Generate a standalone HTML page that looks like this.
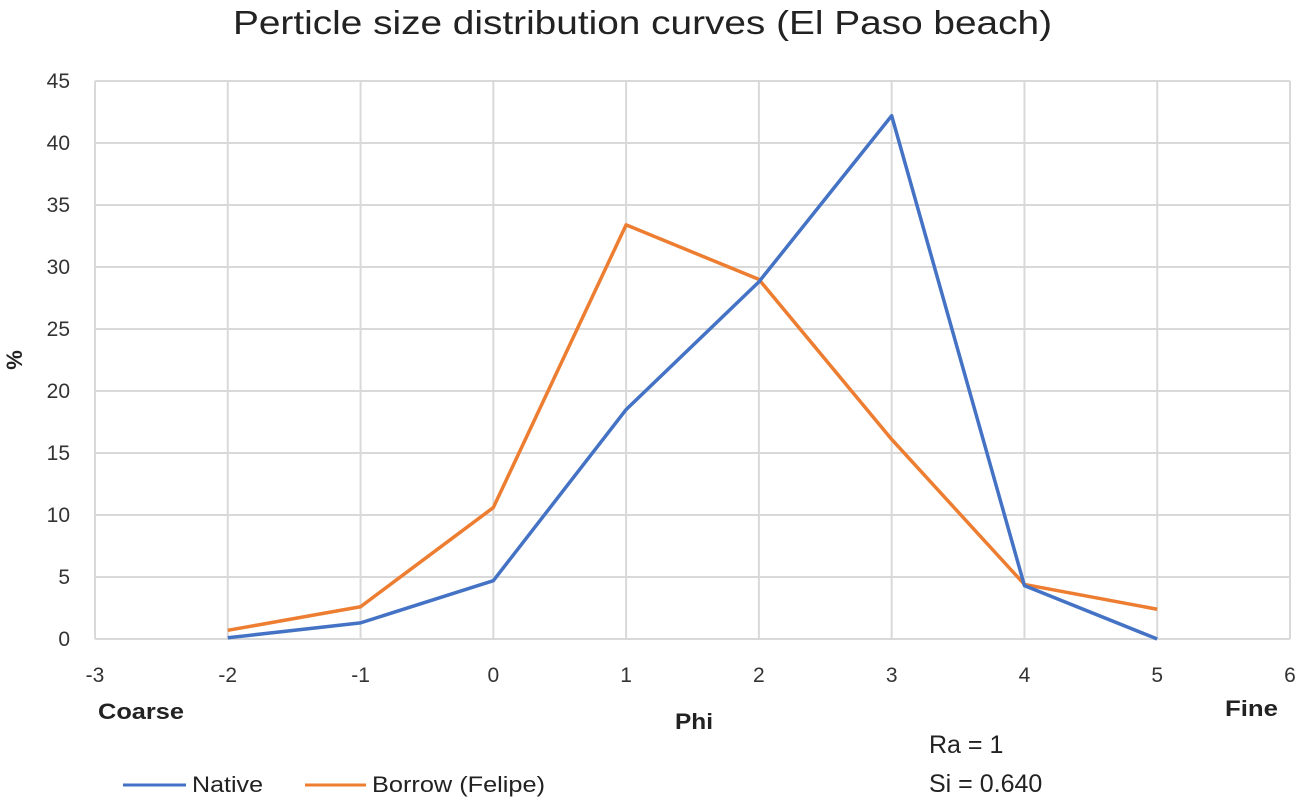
<!DOCTYPE html>
<html><head><meta charset="utf-8"><style>
body{margin:0;background:#fff;width:1299px;height:798px;overflow:hidden;font-family:"Liberation Sans",sans-serif}
svg text{font-family:"Liberation Sans",sans-serif}
</style></head><body>
<svg id="chart" width="1299" height="798">
<text x="233" y="34" textLength="819" lengthAdjust="spacingAndGlyphs" font-size="33" fill="#222">Perticle size distribution curves (El Paso beach)</text>
<g id="grid"></g><g id="ticks"></g><g id="series"></g>
<text x="22" y="360" transform="rotate(-90 22 360)" text-anchor="middle" font-size="22" font-weight="bold" fill="#222">%</text>
<text x="675" y="729" textLength="38" lengthAdjust="spacingAndGlyphs" font-size="22" font-weight="bold" fill="#222">Phi</text>
<text x="98" y="719" textLength="86" lengthAdjust="spacingAndGlyphs" font-size="22" font-weight="bold" fill="#222">Coarse</text>
<text x="1225" y="716" textLength="53" lengthAdjust="spacingAndGlyphs" font-size="22" font-weight="bold" fill="#222">Fine</text>
<text x="929" y="753" font-size="25" fill="#222">Ra = 1</text>
<text x="929" y="792" font-size="25" fill="#222">Si = 0.640</text>
<g><line x1="123" y1="785" x2="186" y2="785" stroke="#4472C4" stroke-width="3"/><text x="192" y="792" textLength="71" lengthAdjust="spacingAndGlyphs" font-size="22" fill="#222">Native</text></g>
<g><line x1="305" y1="785" x2="366" y2="785" stroke="#ED7D31" stroke-width="3"/><text x="372" y="792" textLength="173" lengthAdjust="spacingAndGlyphs" font-size="22" fill="#222">Borrow (Felipe)</text></g>
</svg>
<script>
const categories=[-2,-1,0,1,2,3,4,5];
const nativeValues=[0.1,1.3,4.7,18.5,28.8,42.2,4.3,0];
const borrowValues=[0.7,2.6,10.6,33.4,29.0,16.1,4.4,2.4];
const xTicks=[-3,-2,-1,0,1,2,3,4,5,6];
const yTicks=[0,5,10,15,20,25,30,35,40,45];
const NS="http://www.w3.org/2000/svg";
const x=v=>95+(v+3)*(1290-95)/9;
const y=v=>639-v*(639-81)/45;
function mk(t,a,p){const e=document.createElementNS(NS,t);for(const k in a)e.setAttribute(k,a[k]);p.appendChild(e);return e;}
const g=document.getElementById('grid'),tk=document.getElementById('ticks'),s=document.getElementById('series');
yTicks.forEach(v=>{const l=mk('line',{x1:95,x2:1290,y1:y(v),y2:y(v),stroke:'#d9d9d9','stroke-width':2},g);


const t=mk('text',{x:70,y:y(v)+7,'text-anchor':'end','font-size':21,fill:'#333'},tk);t.textContent=v;

});
xTicks.forEach(v=>{const l=mk('line',{x1:x(v),x2:x(v),y1:81,y2:639,stroke:'#d9d9d9','stroke-width':2},g);


const t=mk('text',{x:x(v),y:682,'text-anchor':'middle','font-size':21,fill:'#333'},tk);t.textContent=v;

});
function line(vals,col,name){const p=mk('polyline',{points:categories.map((c,i)=>x(c)+','+y(vals[i])).join(' '),fill:'none',stroke:col,'stroke-width':3.5,'stroke-linejoin':'round'},s);

}
line(borrowValues,'#ED7D31','borrow-line');
line(nativeValues,'#4472C4','native-line');
</script>
</body></html>
